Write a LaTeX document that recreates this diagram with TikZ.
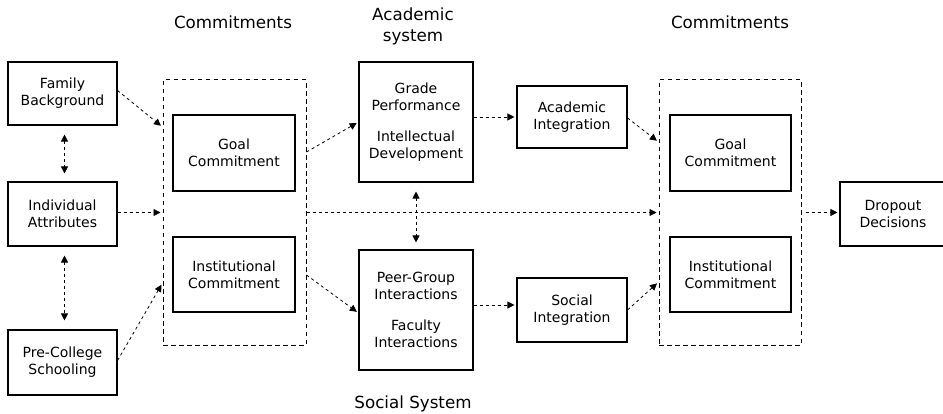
\documentclass[tikz,border=0pt]{standalone}
\usepackage{fontspec}
\setmainfont{DejaVu Sans}
\usetikzlibrary{arrows.meta}
\tikzset{
  box/.style={draw, line width=1.1pt, rectangle, align=center, inner sep=0pt,
    font=\fontsize{14}{17}\selectfont},
  dashbox/.style={draw, line width=1pt, dash pattern=on 4.5pt off 3.5pt, rectangle, inner sep=0pt},
  conn/.style={line width=0.8pt, dash pattern=on 3pt off 3pt,
    -{Triangle[length=7pt,width=7pt]}, shorten >=2pt},
  dconn/.style={line width=0.8pt, dash pattern=on 3pt off 3pt,
    {Triangle[length=7pt,width=7pt]}-{Triangle[length=7pt,width=7pt]}},
  title/.style={align=center, font=\fontsize{16.7}{21}\selectfont}
}
\begin{document}
\begin{tikzpicture}[x=1pt,y=-1pt]
\useasboundingbox[fill=white] (0,0) rectangle (943,414);
% titles
\node[title] (t1) at (233,22) {Commitments};
\node[title] (t2) at (413,26) {Academic\\system};
\node[title] (t3) at (730,22) {Commitments};
\node[title] (t4) at (413,404) {Social System};
% left column
\node[box, minimum width=109pt, minimum height=63pt] (fam) at (62.5,93.5) {Family\\Background};
\node[box, minimum width=109pt, minimum height=64pt] (ind) at (62.5,214) {Individual\\Attributes};
\node[box, minimum width=109pt, minimum height=65pt] (pre) at (62.5,362.5) {Pre-College\\Schooling};
% left commitments
\node[dashbox, minimum width=143pt, minimum height=265pt] (ld) at (234.5,212.5) {};
\node[box, minimum width=122pt, minimum height=76pt] (g1) at (234,153) {Goal\\Commitment};
\node[box, minimum width=122pt, minimum height=75pt] (i1) at (234,274.5) {Institutional\\Commitment};
% systems
\node[box, minimum width=114pt, minimum height=120pt] (gr) at (416,122) {Grade\\Performance\\[14pt]Intellectual\\Development};
\node[box, minimum width=114pt, minimum height=120pt] (pe) at (416,310) {Peer-Group\\Interactions\\[14pt]Faculty\\Interactions};
\node[box, minimum width=110pt, minimum height=62pt] (ac) at (572,117) {Academic\\Integration};
\node[box, minimum width=110pt, minimum height=64pt] (so) at (572,310) {Social\\Integration};
% right commitments
\node[dashbox, minimum width=142pt, minimum height=265pt] (rd) at (730,212.5) {};
\node[box, minimum width=121pt, minimum height=76pt] (g2) at (730.5,153) {Goal\\Commitment};
\node[box, minimum width=121pt, minimum height=75pt] (i2) at (730.5,274.5) {Institutional\\Commitment};
\node[box, minimum width=106pt, minimum height=64pt] (dr) at (893,214) {Dropout\\Decisions};
% connectors
\draw[conn] ([yshift=3pt]fam.east) -- ([yshift=85.5pt]ld.west);
\draw[conn] (ld.west -| ind.east) -- (ld.west);
\draw[conn] ([yshift=2pt]pre.east) -- ([yshift=-70.5pt]ld.west);
\draw[dconn, shorten <=9pt, shorten >=8pt] ([xshift=2pt]fam.south) -- ([xshift=2pt]ind.north);
\draw[dconn, shorten <=9pt, shorten >=9pt] ([xshift=2pt]ind.south) -- ([xshift=2pt]pre.north);
\draw[conn] ([yshift=60.5pt]ld.east) -- (gr.west);
\draw[conn] ([yshift=-62.5pt]ld.east) -- ([yshift=-3pt]pe.west);
\draw[conn] (ac.west -| gr.east) -- (ac.west);
\draw[conn] ([yshift=5pt]so.west -| pe.east) -- ([yshift=5pt]so.west);
\draw[dconn, shorten <=9pt, shorten >=7pt] (gr.south) -- (pe.north);
\draw[conn] (ld.east) -- (rd.west);
\draw[conn] ([yshift=-1pt]ac.east) -- ([yshift=70.5pt]rd.west);
\draw[conn] (so.east) -- ([yshift=-69.5pt]rd.west);
\draw[conn, shorten <=4pt] (rd.east) -- (rd.east -| dr.west);
\end{tikzpicture}
\end{document}
